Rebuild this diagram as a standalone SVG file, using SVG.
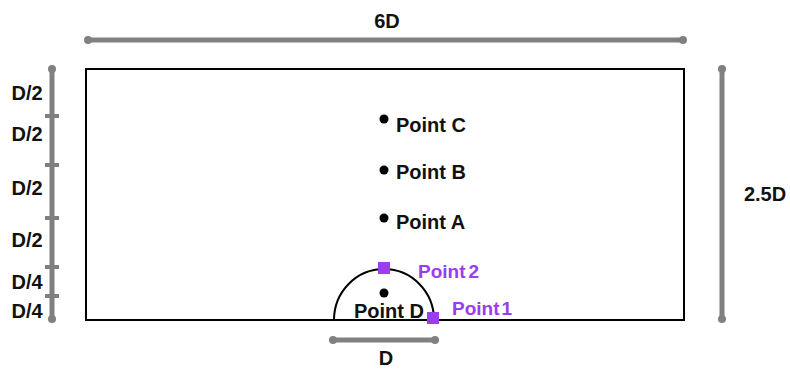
<svg xmlns="http://www.w3.org/2000/svg" width="790" height="369" viewBox="0 0 790 369">
<style>
.t{font-family:"Liberation Sans",Arial,sans-serif;font-weight:bold;font-size:20px;fill:#111}
.p{font-family:"Liberation Sans",Arial,sans-serif;font-weight:bold;font-size:19px;fill:#9b3cf0}
.bar{stroke:#808080;stroke-width:5;stroke-linecap:round;fill:none}
.tick{stroke:#808080;stroke-width:4;fill:none}
.end{fill:#808080}
.sq{fill:#9b3cf0}
</style>
<rect width="790" height="369" fill="#fff"/>
<g id="domain">
<rect x="86" y="69" width="598" height="251" fill="none" stroke="#000" stroke-width="2"/>
</g>
<g id="connectors">
<line class="bar" x1="88" y1="40" x2="683" y2="40"/>
<circle class="end" cx="88" cy="40" r="4"/><circle class="end" cx="683" cy="40" r="4"/>
<line class="bar" x1="722" y1="69" x2="722" y2="319"/>
<circle class="end" cx="722" cy="69" r="4"/><circle class="end" cx="722" cy="319" r="4"/>
<line class="bar" x1="52" y1="69" x2="52" y2="319"/>
<circle class="end" cx="52" cy="69" r="4"/><circle class="end" cx="52" cy="319" r="4"/>
<line class="tick" x1="45" y1="116" x2="59" y2="116"/>
<line class="tick" x1="45" y1="165" x2="59" y2="165"/>
<line class="tick" x1="45" y1="218" x2="59" y2="218"/>
<line class="tick" x1="45" y1="267" x2="59" y2="267"/>
<line class="tick" x1="45" y1="296" x2="59" y2="296"/>
<line class="bar" x1="333" y1="340" x2="435" y2="340"/>
<circle class="end" cx="333" cy="340" r="4"/><circle class="end" cx="435" cy="340" r="4"/>
<path d="M334 320 A50 51 0 0 1 434 320" fill="none" stroke="#000" stroke-width="2"/>
</g>
<g id="labels">
<text class="t" x="387" y="28" text-anchor="middle" font-size="21">6D</text>
<text class="t" x="765" y="201" text-anchor="middle" font-size="21">2.5D</text>
<text class="t" x="386" y="365" text-anchor="middle" font-size="21">D</text>
<text class="t" x="27" y="100" text-anchor="middle">D/2</text>
<text class="t" x="27" y="141" text-anchor="middle">D/2</text>
<text class="t" x="27" y="195" text-anchor="middle">D/2</text>
<text class="t" x="27" y="247" text-anchor="middle">D/2</text>
<text class="t" x="27" y="289" text-anchor="middle">D/4</text>
<text class="t" x="27" y="318" text-anchor="middle">D/4</text>
</g>
<g id="pointC"><circle cx="384" cy="119" r="4.5" fill="#000"/><text class="t" x="396" y="132">Point C</text></g>
<g id="pointB"><circle cx="384" cy="170" r="4.5" fill="#000"/><text class="t" x="396" y="179">Point B</text></g>
<g id="pointA"><circle cx="384" cy="218" r="4.5" fill="#000"/><text class="t" x="396" y="229">Point A</text></g>
<g id="pointD"><circle cx="384" cy="293" r="4.5" fill="#000"/><text class="t" x="354" y="318">Point D</text></g>
<g id="point2"><rect class="sq" x="378" y="262" width="12" height="12"/><text class="p" x="418" y="278">Point<tspan dx="3">2</tspan></text></g>
<g id="point1"><rect class="sq" x="427" y="312" width="12" height="12"/><text class="p" x="452" y="315">Point<tspan dx="2">1</tspan></text></g>
</svg>
